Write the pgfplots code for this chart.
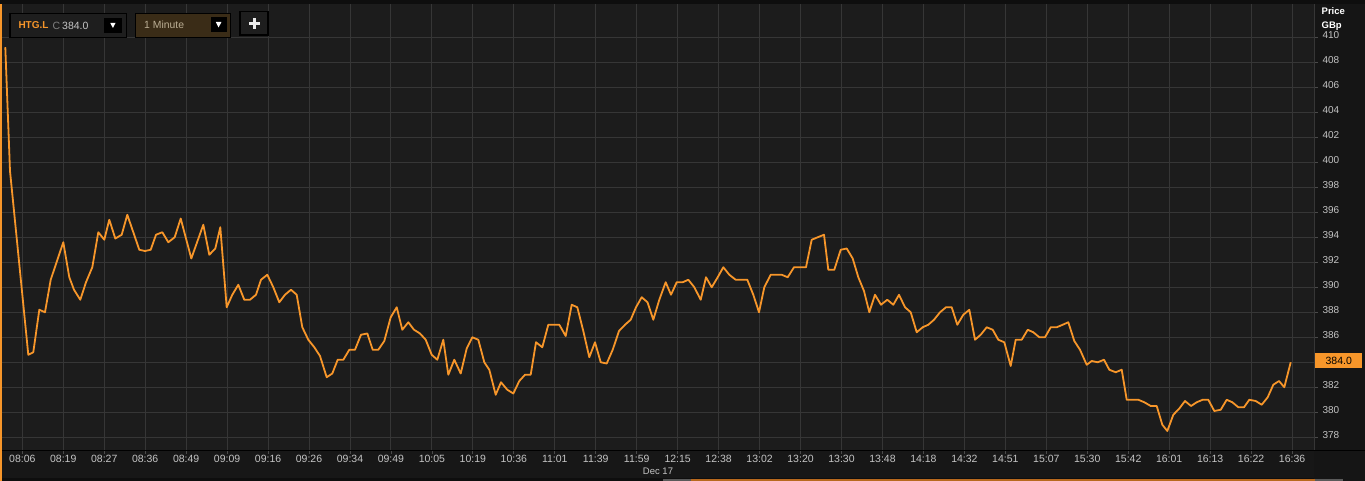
\documentclass[border=0pt]{standalone}
\usepackage{pgfplots}
\pgfplotsset{compat=1.18}
\usepackage{fontspec}
\setmainfont{Liberation Sans}
\definecolor{topblack}{HTML}{0E0E0E}
\definecolor{plotbg}{HTML}{1C1C1C}
\definecolor{rightbg}{HTML}{151515}
\definecolor{labelbg}{HTML}{171717}
\definecolor{gridc}{HTML}{363636}
\definecolor{tickc}{HTML}{4A4A4A}
\definecolor{labc}{HTML}{C4C4C4}
\definecolor{lineorange}{HTML}{F7962A}
\definecolor{boxbg}{HTML}{1E1E1E}
\definecolor{brownbg}{HTML}{3A2C17}
\definecolor{tan}{HTML}{BBAE94}
\definecolor{scrollor}{HTML}{B8691E}
\definecolor{scrollgr}{HTML}{5A5A5A}
\begin{document}
\begin{tikzpicture}[x=1pt,y=1pt]
\useasboundingbox (0,0) rectangle (1365,-481);
\fill[topblack] (0,0) rectangle (1365,-481);
\fill[plotbg] (2,-4) rectangle (1314,-450);
\fill[rightbg] (1314,-4) rectangle (1365,-481);
\fill[labelbg] (2,-451) rectangle (1314,-478);
\begin{axis}[
  at={(2pt,-450pt)}, anchor=south west,
  scale only axis, width=1312pt, height=446pt,
  xmin=2, xmax=1314, ymin=376.98, ymax=412.66,
  axis line style={draw=none},
  grid=major, major grid style={draw=gridc, line width=0.9pt},
  xtick={22.30,63.26,104.22,145.18,186.14,227.10,268.06,309.02,349.98,390.94,431.90,472.86,513.82,554.78,595.74,636.70,677.66,718.62,759.58,800.54,841.50,882.46,923.42,964.38,1005.34,1046.30,1087.26,1128.22,1169.18,1210.14,1251.10,1292.06},
  xticklabels={08:06,08:19,08:27,08:36,08:49,09:09,09:16,09:26,09:34,09:49,10:05,10:19,10:36,11:01,11:39,11:59,12:15,12:38,13:02,13:20,13:30,13:48,14:18,14:32,14:51,15:07,15:30,15:42,16:01,16:13,16:22,16:36},
  ytick={378,380,382,384,386,388,390,392,394,396,398,400,402,404,406,408,410},
  yticklabels={378,380,382,,386,388,390,392,394,396,398,400,402,404,406,408,410},
  xtick pos=bottom, ytick pos=right, yticklabel pos=right,
  tick align=outside, major tick length=4pt,
  tick style={draw=tickc, line width=0.8pt},
  ticklabel style={text=labc},
  yticklabel style={anchor=west, xshift=1pt, yshift=2pt, font=\fontsize{10}{12}\selectfont},
  xticklabel style={yshift=2pt, font=\fontsize{10.5}{12}\selectfont},
  clip=true,
]
\addplot[draw=lineorange, line width=1.8pt, line join=round] coordinates {
(5.3,409.2) (10,399.3) (14,396.1) (28.3,384.6) (33.3,384.8) (39.3,388.2) (45,388.0) (50.7,390.6)
(63.3,393.6) (69.3,390.8) (74,389.8) (80.3,389.0) (86,390.4) (92.3,391.6) (98.3,394.4) (104.3,393.8)
(109.3,395.4) (115.3,393.9) (121.7,394.2) (127.3,395.8) (139.3,393.0) (145,392.9) (150.7,393.0)
(156,394.2) (162.3,394.4) (168.3,393.6) (174.7,394.0) (180.7,395.5) (191.3,392.3) (203.3,395.0)
(209.3,392.6) (215.3,393.1) (220.3,394.8) (226.7,388.4) (232.3,389.4) (238.3,390.2) (244.3,389.0)
(250,389.0) (256,389.4) (261,390.6) (267.3,391.0) (273.3,390.0) (279.3,388.8) (285,389.4)
(291,389.8) (296.7,389.4) (302.3,386.8) (308.3,385.8) (314.3,385.2) (320,384.5) (326.7,382.8)
(332.3,383.1) (337.7,384.2) (343.3,384.2) (349.3,385.0) (355,385.0) (361,386.2) (367.3,386.3)
(372.7,385.0) (378.3,385.0) (384.3,385.7) (390.7,387.6) (396.7,388.4) (402.3,386.6) (408.3,387.2)
(414,386.6) (420,386.3) (425.7,385.8) (431.7,384.6) (437.3,384.2) (443.3,385.8) (448.3,383.0)
(454.3,384.2) (460.7,383.1) (466.7,385.1) (472.3,386.0) (478.3,385.8) (484.3,384.0) (489.3,383.4)
(495.7,381.4) (501,382.4) (507.3,381.8) (513.3,381.5) (519.3,382.5) (525,383.0) (530.7,383.0)
(536,385.6) (542.3,385.2) (548.3,387.0) (554,387.0) (559.3,387.0) (565.7,386.1) (571.7,388.6)
(577.3,388.4) (583.3,386.5) (589.3,384.4) (595,385.6) (600.7,384.0) (606.7,383.9) (612.7,385.0)
(619,386.5) (625,387.0) (630.7,387.4) (636,388.4) (641.7,389.2) (647.5,388.8) (653.3,387.4)
(659.3,389.0) (665.7,390.4) (671,389.4) (676.7,390.4) (682.7,390.4) (688.3,390.6) (694.3,390.0)
(700.7,389.0) (706,390.8) (711.7,390.0) (717.7,390.8) (723.3,391.6) (729.3,391.0) (735.7,390.6)
(741.7,390.6) (747.3,390.6) (753.3,389.4) (759,388.0) (764.3,390.0) (770.7,391.0) (776,391.0)
(781.7,391.0) (787.7,390.8) (794,391.6) (800,391.6) (806,391.6) (811.7,393.8) (817.7,394.0)
(824,394.2) (828.3,391.4) (834.3,391.4) (840.7,393.0) (846.7,393.1) (852.7,392.3) (858.3,390.8)
(864,389.7) (869.3,388.0) (875,389.4) (881,388.6) (887.3,389.0) (893.3,388.6) (899,389.4)
(905,388.4) (910.7,388.0) (916.7,386.4) (922.7,386.8) (928.3,387.0) (934,387.4) (940,388.0)
(946,388.4) (951.7,388.4) (957.3,387.0) (963.3,387.8) (969.3,388.2) (975,385.8) (980.7,386.2)
(986.7,386.8) (992.7,386.6) (998.3,385.8) (1004.3,385.6) (1010.7,383.7) (1015.7,385.8) (1021.7,385.8)
(1027.7,386.6) (1033.3,386.4) (1039.3,386.0) (1045,386.0) (1050.7,386.8) (1056.7,386.8) (1062.7,387.0)
(1068.3,387.2) (1074.3,385.7) (1080,385.0) (1086.7,383.8) (1091.7,384.1) (1097.7,384.0) (1104,384.2)
(1109.3,383.4) (1115.7,383.2) (1121.7,383.4) (1126.7,381.0) (1132.7,381.0) (1138.3,381.0) (1144.3,380.8)
(1150.7,380.5) (1156.7,380.5) (1162.3,379.0) (1167.3,378.5) (1173.3,379.8) (1179.3,380.3) (1185,380.9)
(1191,380.5) (1196.7,380.8) (1202.7,381.0) (1208.3,381.0) (1214.3,380.1) (1220.7,380.2) (1226.7,381.0)
(1232.3,380.8) (1238.3,380.4) (1244,380.4) (1249.3,381.0) (1255.7,380.9) (1261.7,380.6) (1267.7,381.2)
(1273.3,382.2) (1279,382.5) (1284.3,382.0) (1290.7,384.0)
};
\end{axis}
% frame lines
\draw[gridc, line width=0.9pt] (1314,-4) -- (1314,-450);
\draw[black, line width=1pt] (0,-450.5) -- (1365,-450.5);
\fill[lineorange] (0,-4) rectangle (1.6,-481);
% price box
\node[fill=lineorange, text=black, anchor=west, minimum width=47pt, minimum height=15pt, inner sep=0pt, font=\fontsize{10.5}{12}\selectfont] at (1315,-360.5) {384.0};
% price header
\node[anchor=west, text=white, inner sep=0pt, font=\bfseries\fontsize{9.5}{11}\selectfont] at (1321.5,-11) {Price};
\node[anchor=west, text=white, inner sep=0pt, font=\bfseries\fontsize{9.5}{11}\selectfont] at (1321.5,-26) {GBp};
% date label
\node[text=labc, inner sep=0pt, font=\fontsize{9.5}{11}\selectfont] at (658,-471.5) {Dec 17};
% scroll bar
\fill[scrollgr] (663,-478.5) rectangle (691,-481);
\fill[scrollor] (691,-478.5) rectangle (1315,-481);
\fill[scrollgr] (1315,-478.5) rectangle (1343,-481);
% header box 1
\filldraw[fill=boxbg, draw=black, line width=1.5pt] (9.8,-13.5) rectangle (126.5,-37.5);
\node[anchor=west, inner sep=0pt, text=lineorange, font=\bfseries\fontsize{10}{12}\selectfont] at (18.3,-25.5) {HTG.L};
\node[anchor=west, inner sep=0pt, text=gray, font=\fontsize{10.5}{12}\selectfont] at (52.5,-25.5) {C};
\node[anchor=west, inner sep=0pt, text=labc, font=\fontsize{10.5}{12}\selectfont] at (62,-25.5) {384.0};
\fill[black] (104,-18.3) rectangle (121.7,-32.7);
\fill[white] (110.3,-23) -- (115.5,-23) -- (112.9,-28) -- cycle;
% header box 2
\filldraw[fill=brownbg, draw=black, line width=1.5pt] (135.5,-13.5) rectangle (230.5,-37.5);
\node[anchor=west, inner sep=0pt, text=tan, font=\fontsize{10.4}{12}\selectfont] at (144,-24.5) {1 Minute};
\fill[black] (210.5,-16.7) rectangle (226.7,-32.3);
\fill[white] (215.8,-22) -- (221.4,-22) -- (218.6,-27.5) -- cycle;
% header box 3
\filldraw[fill=boxbg, draw=black, line width=1.5pt] (240,-11.7) rectangle (268,-35);
\fill[white!85!gray] (249,-22.4) rectangle (259.5,-25);
\fill[white!85!gray] (253,-18.4) rectangle (255.6,-29);
\end{tikzpicture}
\end{document}
